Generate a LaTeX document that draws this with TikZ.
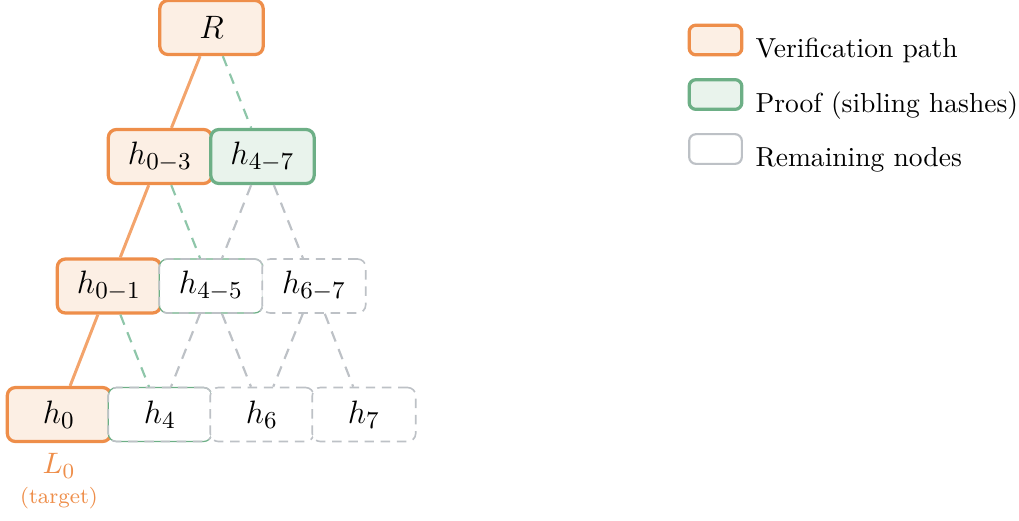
\documentclass[tikz,border=0pt]{standalone}
\usetikzlibrary{backgrounds}
\definecolor{pathor}{HTML}{EE8E4A}
\definecolor{pathorfill}{HTML}{FCEFE4}
\definecolor{pathedgec}{HTML}{F3A46C}
\definecolor{proofg}{HTML}{6DAF86}
\definecolor{proofgfill}{HTML}{E9F3EC}
\definecolor{proofedgec}{HTML}{8EC6A9}
\definecolor{remg}{HTML}{BDC1C6}
\begin{document}
\begin{tikzpicture}[x=0.37037pt,y=-0.37037pt,
  hnode/.style={minimum width=38.3pt,minimum height=20pt,inner sep=0pt,rounded corners=3pt,font=\fontsize{13}{15}\selectfont},
  pathnode/.style={hnode,draw=pathor,fill=pathorfill,line width=1.2pt},
  proofnode/.style={hnode,draw=proofg,fill=proofgfill,line width=1.2pt},
  prooflite/.style={hnode,draw=proofg,fill=white,line width=0.45pt,
     postaction={draw=remg,line width=0.6pt,dash pattern=on 3.5pt off 2.5pt}},
  remnode/.style={hnode,draw=remg,fill=white,line width=0.6pt,dash pattern=on 3.5pt off 2.5pt},
  pathedge/.style={draw=pathedgec,line width=1.1pt},
  proofedge/.style={draw=proofedgec,line width=0.8pt,dash pattern=on 4pt off 3pt},
  remedge/.style={draw=remg,line width=0.8pt,dash pattern=on 4pt off 3pt},
  legbox/.style={minimum width=19.5pt,minimum height=11pt,inner sep=0pt,rounded corners=2.5pt},
  legtext/.style={anchor=base west,inner sep=0pt,font=\fontsize{10.2}{12}\selectfont}
]
\useasboundingbox (0,0) rectangle (1019,520);
% level 0
\node[pathnode] (R) at (211.5,27.5) {$R$};
% level 1
\node[pathnode] (h03) at (160,156.5) {$h_{0-3}$};
\node[proofnode] (h47) at (262.5,156.5) {$h_{4-7}$};
% level 2
\node[pathnode] (h01) at (109,286) {$h_{0-1}$};
\node[prooflite] (h45) at (211,286) {$h_{4-5}$};
\node[remnode] (h67) at (314,286) {$h_{6-7}$};
% level 3
\node[pathnode] (h0) at (59,414.5) {$h_{0}$};
\node[prooflite] (h4) at (160,414.5) {$h_{4}$};
\node[remnode] (h6) at (262,414.5) {$h_{6}$};
\node[remnode] (h7) at (364,414.5) {$h_{7}$};
% edges
\draw[pathedge] (R) -- (h03);
\draw[proofedge] (R) -- (h47);
\draw[pathedge] (h03) -- (h01);
\draw[proofedge] (h03) -- (h45);
\draw[remedge] (h47) -- (h45);
\draw[remedge] (h47) -- (h67);
\draw[pathedge] (h01) -- (h0);
\draw[proofedge] (h01) -- (h4);
\draw[remedge] (h45) -- (h4);
\draw[remedge] (h45) -- (h6);
\draw[remedge] (h67) -- (h6);
\draw[remedge] (h67) -- (h7);
% target label
\node[text=pathor,align=center,inner sep=0pt] (lab) at (59,481) {\fontsize{11}{13}\selectfont$L_0$\\[-1pt]{\footnotesize (target)}};
% legend
\node[legbox,draw=pathor,fill=pathorfill,line width=1.2pt] (lg1) at (715.5,40) {};
\node[legbox,draw=proofg,fill=proofgfill,line width=1.2pt] (lg2) at (715.5,94.5) {};
\node[legbox,draw=remg,fill=white,line width=0.8pt] (lg3) at (715.5,149) {};
\node[legtext] (lt1) at (755,57.5) {Verification path};
\node[legtext] (lt2) at (755,112) {Proof (sibling hashes)};
\node[legtext] (lt3) at (755,166.5) {Remaining nodes};
\end{tikzpicture}
\end{document}
